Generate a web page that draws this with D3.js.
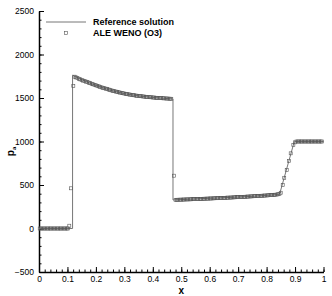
<!DOCTYPE html>
<html>
<head>
<meta charset="utf-8">
<script src="https://cdn.jsdelivr.net/npm/d3@7"></script>
<style>
  body { margin: 0; background: #fff; }
  svg { font-family: "Liberation Sans", Arial, sans-serif; }
  .tick text { font-size: 8.5px; fill: #000; }
  .legend-text { font-size: 9px; font-weight: bold; }
</style>
</head>
<body>
<div id="chart"></div>
<script>
// reference (exact) solution, [x, p]
const refLine = [
  [0, 0], [0.118, 0], [0.118, 1762], [0.14, 1725], [0.17, 1683], [0.2, 1645],
  [0.25, 1590], [0.3, 1550], [0.35, 1524], [0.4, 1506], [0.44, 1496], [0.471, 1489],
  [0.471, 328], [0.55, 340], [0.65, 354], [0.75, 370], [0.84, 390], [0.846, 398],
  [0.897, 995], [0.9, 1000], [1, 1000]
];

// ALE WENO (O3) cell values, [x, p]
const wenoPts = [
  [0.0025, 0], [0.0075, 0], [0.0125, 0], [0.0175, 0], [0.0225, 0], [0.0275, 0], [0.0325, 0],
  [0.0375, 0], [0.0425, 0], [0.0475, 0], [0.0525, 0], [0.0575, 0], [0.0625, 0], [0.0675, 0],
  [0.0725, 0], [0.0775, 0], [0.0825, 0], [0.0875, 0], [0.0925, 0], [0.0975, 0], [0.1025, 0],
  [0.1065, 32], [0.1125, 462], [0.1206, 1637],
  [0.125, 1745], [0.13, 1737], [0.135, 1729], [0.14, 1721], [0.145, 1714], [0.15, 1707],
  [0.155, 1700], [0.16, 1694], [0.165, 1688], [0.17, 1682], [0.175, 1676], [0.18, 1670],
  [0.185, 1664], [0.19, 1658], [0.195, 1652], [0.2, 1646], [0.205, 1640], [0.21, 1634],
  [0.215, 1628], [0.22, 1622], [0.225, 1617], [0.23, 1612], [0.235, 1607], [0.24, 1602],
  [0.245, 1597], [0.25, 1592], [0.255, 1587], [0.26, 1582], [0.265, 1578], [0.27, 1574],
  [0.275, 1570], [0.28, 1566], [0.285, 1562], [0.29, 1558], [0.295, 1555], [0.3, 1551],
  [0.305, 1548], [0.31, 1545], [0.315, 1542], [0.32, 1539], [0.325, 1536], [0.33, 1533],
  [0.335, 1531], [0.34, 1528], [0.345, 1526], [0.35, 1524], [0.355, 1522], [0.36, 1520],
  [0.365, 1518], [0.37, 1516], [0.375, 1514], [0.38, 1513], [0.385, 1511], [0.39, 1509],
  [0.395, 1508], [0.4, 1506], [0.405, 1505], [0.41, 1503], [0.415, 1502], [0.42, 1501],
  [0.425, 1500], [0.43, 1498], [0.435, 1497], [0.44, 1496], [0.445, 1495], [0.45, 1494],
  [0.455, 1493], [0.46, 1492], [0.465, 1491],
  [0.4745, 607],
  [0.48, 330], [0.485, 330], [0.49, 331], [0.495, 331], [0.5, 332], [0.505, 332],
  [0.51, 333], [0.515, 334], [0.52, 334], [0.525, 335], [0.53, 335], [0.535, 336],
  [0.54, 337], [0.545, 337], [0.55, 338], [0.555, 339], [0.56, 339], [0.565, 340],
  [0.57, 341], [0.575, 341], [0.58, 342], [0.585, 343], [0.59, 343], [0.595, 344],
  [0.6, 345], [0.605, 345], [0.61, 346], [0.615, 347], [0.62, 348], [0.625, 348],
  [0.63, 349], [0.635, 350], [0.64, 351], [0.645, 351], [0.65, 352], [0.655, 353],
  [0.66, 354], [0.665, 355], [0.67, 355], [0.675, 356], [0.68, 357], [0.685, 358],
  [0.69, 359], [0.695, 360], [0.7, 361], [0.705, 361], [0.71, 362], [0.715, 363],
  [0.72, 364], [0.725, 365], [0.73, 366], [0.735, 367], [0.74, 368], [0.745, 369],
  [0.75, 370], [0.755, 371], [0.76, 372], [0.765, 373], [0.77, 374], [0.775, 375],
  [0.78, 376], [0.785, 377], [0.79, 378], [0.795, 379], [0.8, 380], [0.805, 381],
  [0.81, 383], [0.815, 384], [0.82, 385], [0.825, 386], [0.83, 388], [0.835, 390],
  [0.84, 393], [0.845, 398],
  [0.8496, 411], [0.8566, 499], [0.862, 583], [0.8707, 672], [0.8787, 776], [0.8847, 864],
  [0.894, 960], [0.9, 990],
  [0.905, 1000], [0.91, 1000], [0.915, 1000], [0.92, 1000], [0.925, 1000], [0.93, 1000],
  [0.935, 1000], [0.94, 1000], [0.945, 1000], [0.95, 1000], [0.955, 1000], [0.96, 1000],
  [0.965, 1000], [0.97, 1000], [0.975, 1000], [0.98, 1000], [0.985, 1000], [0.99, 1000],
  [0.995, 1000]
];

const xMajor = [0, 0.1, 0.2, 0.3, 0.4, 0.5, 0.6, 0.7, 0.8, 0.9, 1];
const yMajor = [-500, 0, 500, 1000, 1500, 2000, 2500];
const seriesNames = ["Reference solution", "ALE WENO (O3)"];

// 1: SVG
const margin = { top: 11, right: 8.5, bottom: 24, left: 39 },
      width = 332 - margin.left - margin.right,
      height = 296 - margin.top - margin.bottom;

const svg = d3.select("#chart")
    .append("svg")
    .attr("width", 332)
    .attr("height", 296)
    .append("g")
    .attr("transform", `translate(${margin.left},${margin.top})`);

// 2: scales
const x = d3.scaleLinear().domain([0, 1]).range([0, width]);
const y = d3.scaleLinear().domain([-500, 2500]).range([height, 0]);

// 3: axes (ticks point inward)
const xMinor = d3.range(0, 1.0001, 0.02);
const yMinor = d3.range(-500, 2501, 100);

svg.append("g")
    .attr("transform", `translate(0,${height})`)
    .call(d3.axisBottom(x).tickValues(xMinor).tickSize(-2.5).tickFormat(""))
    .call(g => g.select(".domain").remove());
svg.append("g")
    .call(d3.axisLeft(y).tickValues(yMinor).tickSize(-2.5).tickFormat(""))
    .call(g => g.select(".domain").remove());

svg.append("g")
    .attr("transform", `translate(0,${height})`)
    .call(d3.axisBottom(x).tickValues(xMajor).tickSize(-5).tickSizeOuter(0).tickPadding(4)
        .tickFormat(d => d === 0 || d === 1 ? d3.format("d")(d) : d3.format(".1f")(d)))
    .call(g => g.select(".domain").attr("stroke-width", 1.5));
svg.append("g")
    .call(d3.axisLeft(y).tickValues(yMajor).tickSize(-5).tickSizeOuter(0).tickPadding(5)
        .tickFormat(d3.format("d")))
    .call(g => g.select(".domain").attr("stroke-width", 1.5));

svg.selectAll(".tick line").attr("stroke", "#000");

// 4: reference line
const line = d3.line().x(d => x(d[0])).y(d => y(d[1]));
svg.append("path")
    .datum(refLine)
    .attr("fill", "none")
    .attr("stroke", "#777")
    .attr("stroke-width", 1)
    .attr("d", line);

// 5: markers
const s = 3;
svg.append("g")
    .selectAll("rect")
    .data(wenoPts)
    .enter()
    .append("rect")
    .attr("x", d => x(d[0]) - s / 2)
    .attr("y", d => y(d[1]) - s / 2)
    .attr("width", s)
    .attr("height", s)
    .attr("fill", "none")
    .attr("stroke", "#555")
    .attr("stroke-width", 0.6);

// 6: legend
const leg = svg.append("g").attr("transform", "translate(7,11)");
leg.append("line")
    .attr("x1", 0).attr("x2", 40).attr("y1", 0).attr("y2", 0)
    .attr("stroke", "#777");
leg.append("rect")
    .attr("x", 20 - s / 2).attr("y", 11 - s / 2)
    .attr("width", s).attr("height", s)
    .attr("fill", "none").attr("stroke", "#555").attr("stroke-width", 0.6);
leg.selectAll(".legend-text")
    .data(seriesNames)
    .enter()
    .append("text")
    .attr("class", "legend-text")
    .attr("x", 47)
    .attr("y", (d, i) => i * 11 + 3)
    .text(d => d);

// 7: axis labels
svg.append("text")
    .attr("x", width / 2)
    .attr("y", height + 22)
    .attr("text-anchor", "middle")
    .attr("font-size", 10)
    .attr("font-weight", "bold")
    .text("x");

const yl = svg.append("text")
    .attr("transform", "rotate(-90)")
    .attr("x", -(y(1000) + 10))
    .attr("y", -margin.left + 14)
    .attr("text-anchor", "middle")
    .attr("font-size", 10)
    .attr("font-weight", "bold");
yl.append("tspan").text("p");
yl.append("tspan").attr("font-size", 6).attr("dy", 2).text("a");
</script>
</body>
</html>
